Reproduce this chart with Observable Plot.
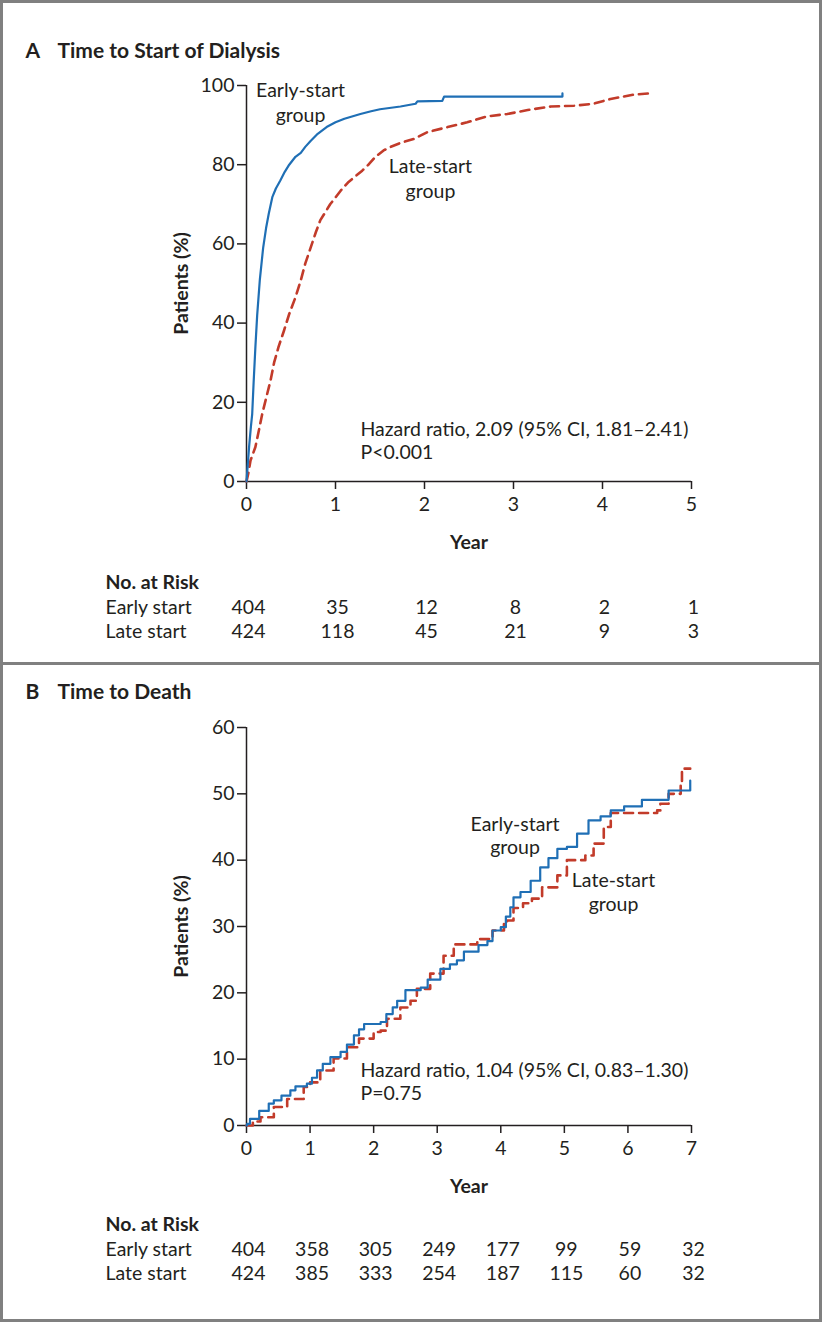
<!DOCTYPE html>
<html>
<head>
<meta charset="utf-8">
<script src="https://cdn.jsdelivr.net/npm/d3@7"></script>
<script src="https://cdn.jsdelivr.net/npm/@observablehq/plot@0.6"></script>
<style>
  body { margin: 0; background: #fff; }
  #wrap { position: relative; width: 822px; height: 1322px; overflow: hidden; background: #fff; }
  #A { position: absolute; top: 0; left: 0; }
  #B { position: absolute; top: 665px; left: 0; }
  .frame { position: absolute; left: 0; top: 0; width: 822px; height: 1322px; border: 3px solid #808080; box-sizing: border-box; pointer-events: none; }
  .divider { position: absolute; left: 0; top: 662px; width: 822px; height: 3px; background: #808080; }
</style>
</head>
<body>
<div id="wrap">
  <div id="A"></div>
  <div id="B"></div>
  <div class="divider"></div>
  <div class="frame"></div>
</div>
<script>
// ---------- Data ----------
const yearsA = [0, 1, 2, 3, 4, 5];
const yTicksA = [0, 20, 40, 60, 80, 100];
const riskEarlyA = [404, 35, 12, 8, 2, 1];
const riskLateA = [424, 118, 45, 21, 9, 3];

const yearsB = [0, 1, 2, 3, 4, 5, 6, 7];
const yTicksB = [0, 10, 20, 30, 40, 50, 60];
const riskEarlyB = [404, 358, 305, 249, 177, 99, 59, 32];
const riskLateB = [424, 385, 333, 254, 187, 115, 60, 32];

// Panel A: time to start of dialysis, cumulative % [year, percent]
const dialysisEarly = [
  [0, 0], [0.01, 3], [0.03, 9], [0.05, 14], [0.064, 17], [0.08, 25], [0.10, 34],
  [0.12, 42], [0.15, 51], [0.187, 59], [0.22, 64], [0.25, 67.6], [0.29, 71.8],
  [0.33, 74], [0.38, 76], [0.43, 78.2], [0.48, 80], [0.55, 82], [0.61, 83],
  [0.66, 84.5], [0.72, 86], [0.80, 87.8], [0.9, 89.5], [1.0, 90.7], [1.1, 91.6],
  [1.28, 92.8], [1.4, 93.5], [1.5, 94], [1.73, 94.7], [1.9, 95.4], [1.92, 96.0],
  [2.2, 96.1], [2.22, 97.2], [3.55, 97.2], [3.55, 98]
];
const dialysisLate = [
  [0, 0], [0.02, 2], [0.045, 5.3], [0.1, 8.7], [0.14, 13], [0.176, 17], [0.22, 21],
  [0.27, 25.5], [0.31, 30], [0.36, 34], [0.42, 38], [0.48, 42.3], [0.55, 46.5],
  [0.61, 50.8], [0.66, 55], [0.72, 59], [0.78, 63], [0.83, 66], [0.94, 70],
  [1.06, 73.5], [1.14, 75.5], [1.22, 77], [1.30, 78.5], [1.37, 80], [1.45, 82],
  [1.54, 83.6], [1.62, 84.5], [1.73, 85.5], [1.88, 86.5], [2.03, 88.2], [2.26, 89.5],
  [2.48, 90.7], [2.7, 92.2], [2.93, 92.8], [3.16, 93.8], [3.42, 94.7], [3.68, 94.9],
  [3.9, 95.4], [4.09, 96.6], [4.35, 97.7], [4.53, 98]
];

// Panel B: time to death, cumulative % [year, percent]
const deathEarly = [
  [0, 0], [0.01, 0.25], [0.055, 1.0], [0.2, 2.2], [0.35, 3.3], [0.43, 3.8], [0.55, 4.5],
  [0.69, 5.3], [0.77, 5.9], [0.95, 6.3], [1.03, 7.2], [1.11, 8.3], [1.2, 9.3],
  [1.32, 10.3], [1.48, 11.1], [1.58, 12.2], [1.69, 13.6], [1.77, 14.5], [1.85, 15.3],
  [2.11, 15.6], [2.2, 16.8], [2.3, 17.8], [2.37, 18.8], [2.5, 20.4], [2.74, 20.8],
  [2.85, 22], [3.05, 23.6], [3.2, 24.3], [3.31, 24.9], [3.42, 26.2], [3.65, 27.2],
  [3.79, 27.8], [3.87, 29.4], [4.0, 29.9], [4.08, 31.5], [4.15, 32.9], [4.2, 34.4],
  [4.31, 35.2], [4.47, 36.9], [4.62, 38.9], [4.75, 40.3], [4.89, 41.7], [5.04, 42.0],
  [5.2, 44.0], [5.38, 46.0], [5.57, 46.6], [5.73, 47.5], [5.94, 48.1], [6.22, 49.1],
  [6.64, 50.5], [6.98, 52.0]
];
const deathLate = [
  [0, 0], [0.1, 0.6], [0.22, 1.25], [0.43, 2.8], [0.64, 4.0], [0.9, 5.8], [1.0, 6.5],
  [1.16, 8.3], [1.37, 10.1], [1.58, 11.8], [1.77, 13.1], [2.0, 14.1], [2.11, 14.3],
  [2.21, 16.1], [2.42, 17.8], [2.58, 18.8], [2.68, 20.6], [2.89, 22.9], [3.1, 25.6],
  [3.26, 27.3], [3.63, 28.1], [3.87, 29.4], [4.05, 30.4], [4.1, 30.9], [4.2, 32.8],
  [4.35, 33.5], [4.49, 34.2], [4.65, 35.9], [4.89, 37.7], [5.04, 40.0], [5.33, 40.7],
  [5.46, 42.5], [5.62, 45.0], [5.73, 47.1], [6.46, 47.5], [6.51, 48.5], [6.64, 50.0],
  [6.83, 51.3], [6.85, 53.8], [6.98, 53.8]
];

// ---------- Styling ----------
const BLUE = "#1f6fb5";
const RED = "#c23b2a";
const INK = "#231f20";
const FONT = "Lato, 'Open Sans', sans-serif";
const FS = 19.5;
const TFS = 21;

function panel(o) {
  const mL = 246, mR = 131;
  return Plot.plot({
    width: 822,
    height: o.height,
    marginLeft: mL,
    marginRight: mR,
    marginTop: o.marginTop,
    marginBottom: o.marginBottom,
    x: {domain: o.xDomain},
    y: {domain: o.yDomain},
    style: {fontFamily: FONT, fontSize: FS + "px", color: INK, background: "transparent", overflow: "visible"},
    marks: [
      Plot.axisX({ticks: o.years, tickFormat: d3.format("d"), tickSize: 8, tickPadding: 8, label: null, stroke: INK, strokeWidth: 1.5, fill: INK, fontSize: FS}),
      Plot.axisY({ticks: o.yTicks, tickFormat: d3.format("d"), tickSize: 9, tickPadding: 3, label: null, stroke: INK, strokeWidth: 1.5, fill: INK, fontSize: FS}),
      Plot.ruleX([0], {stroke: INK, strokeWidth: 1.5}),
      Plot.ruleY([0], {stroke: INK, strokeWidth: 1.5}),
      Plot.line(o.late, {x: d => d[0], y: d => d[1], curve: o.curve, stroke: RED, strokeWidth: 2.6, strokeDasharray: "9,6"}),
      Plot.line(o.early, {x: d => d[0], y: d => d[1], curve: o.curve, stroke: BLUE, strokeWidth: 2.2}),
      // title
      Plot.text([o.letter], {text: d => d, frameAnchor: "top-left", dx: 25 - mL, dy: o.titleDy, lineAnchor: "bottom", textAnchor: "start", fontWeight: "bold", fontSize: TFS, fill: INK}),
      Plot.text([o.title], {text: d => d, frameAnchor: "top-left", dx: 57 - mL, dy: o.titleDy, lineAnchor: "bottom", textAnchor: "start", fontWeight: "bold", fontSize: TFS, fill: INK}),
      // axis titles
      Plot.text(["Patients (%)"], {text: d => d, frameAnchor: "left", dx: -59, rotate: -90, lineAnchor: "bottom", textAnchor: "middle", fontWeight: "bold", fontSize: FS, fill: INK}),
      Plot.text(["Year"], {text: d => d, frameAnchor: "bottom", dy: 67, lineAnchor: "bottom", textAnchor: "middle", fontWeight: "bold", fontSize: FS, fill: INK}),
      // curve labels
      Plot.text(["Early-start"], {text: d => d, x: o.earlyLbl[0], y: o.earlyLbl[1], lineAnchor: "bottom", textAnchor: "middle", fill: INK}),
      Plot.text(["group"], {text: d => d, x: o.earlyLbl[0], y: o.earlyLbl[2], lineAnchor: "bottom", textAnchor: "middle", fill: INK}),
      Plot.text(["Late-start"], {text: d => d, x: o.lateLbl[0], y: o.lateLbl[1], lineAnchor: "bottom", textAnchor: "middle", fill: INK}),
      Plot.text(["group"], {text: d => d, x: o.lateLbl[0], y: o.lateLbl[2], lineAnchor: "bottom", textAnchor: "middle", fill: INK}),
      // statistics
      Plot.text([o.hr], {text: d => d, x: o.hrPos[0], y: o.hrPos[1], lineAnchor: "bottom", textAnchor: "start", fill: INK}),
      Plot.text([o.p], {text: d => d, x: o.hrPos[0], y: o.hrPos[2], lineAnchor: "bottom", textAnchor: "start", fill: INK}),
      // number at risk table
      Plot.text(["No. at Risk"], {text: d => d, frameAnchor: "bottom-left", dx: 105 - mL, dy: o.tableDy[0], lineAnchor: "bottom", textAnchor: "start", fontWeight: "bold", fill: INK}),
      Plot.text(["Early start"], {text: d => d, frameAnchor: "bottom-left", dx: 105 - mL, dy: o.tableDy[1], lineAnchor: "bottom", textAnchor: "start", fill: INK}),
      Plot.text(["Late start"], {text: d => d, frameAnchor: "bottom-left", dx: 105 - mL, dy: o.tableDy[2], lineAnchor: "bottom", textAnchor: "start", fill: INK}),
      Plot.text(o.riskEarly, {x: o.years, text: d => String(d), frameAnchor: "bottom", dy: o.tableDy[1], dx: 2, lineAnchor: "bottom", textAnchor: "middle", fill: INK}),
      Plot.text(o.riskLate, {x: o.years, text: d => String(d), frameAnchor: "bottom", dy: o.tableDy[2], dx: 2, lineAnchor: "bottom", textAnchor: "middle", fill: INK})
    ]
  });
}

const chartA = panel({
  height: 662, marginTop: 85, marginBottom: 181,
  xDomain: [0, 5], yDomain: [0, 100], years: yearsA, yTicks: yTicksA,
  early: dialysisEarly, late: dialysisLate, curve: "linear",
  letter: "A", title: "Time to Start of Dialysis", titleDy: -28,
  earlyLbl: [0.607, 97.0, 90.7], lateLbl: [2.067, 77.8, 71.5],
  hr: "Hazard ratio, 2.09 (95% CI, 1.81\u20132.41)", p: "P<0.001", hrPos: [1.281, 11.6, 5.8],
  riskEarly: riskEarlyA, riskLate: riskLateA, tableDy: [107, 132, 156]
});
document.getElementById("A").appendChild(chartA);

const chartB = panel({
  height: 657, marginTop: 62, marginBottom: 197,
  xDomain: [0, 7], yDomain: [0, 60], years: yearsB, yTicks: yTicksB,
  early: deathEarly, late: deathLate, curve: "step-after",
  letter: "B", title: "Time to Death", titleDy: -29,
  earlyLbl: [4.224, 44.47, 41.0], lateLbl: [5.773, 35.88, 32.4],
  hr: "Hazard ratio, 1.04 (95% CI, 0.83\u20131.30)", p: "P=0.75", hrPos: [1.793, 7.24, 3.77],
  riskEarly: riskEarlyB, riskLate: riskLateB, tableDy: [105, 130, 154]
});
document.getElementById("B").appendChild(chartB);
</script>
</body>
</html>
